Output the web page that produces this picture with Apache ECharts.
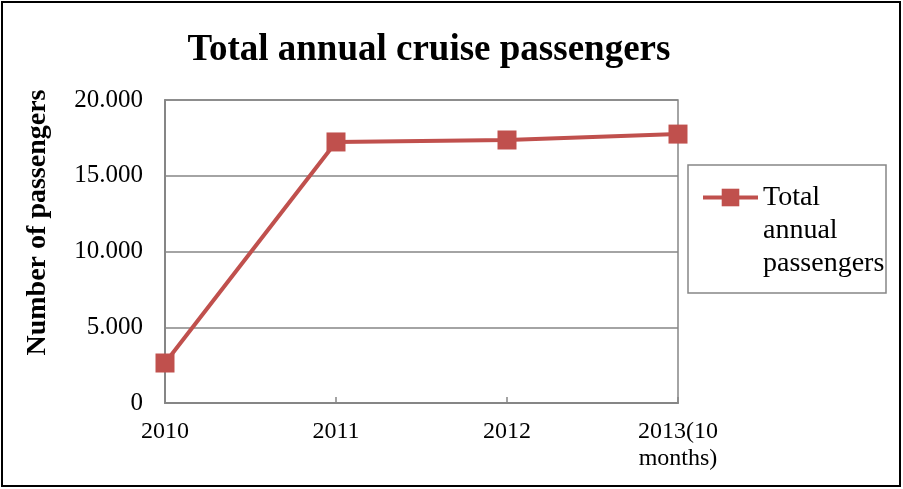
<!DOCTYPE html>
<html>
<head>
<meta charset="utf-8">
<script src="https://cdn.jsdelivr.net/npm/echarts@6/dist/echarts.min.js"></script>
<style>
  html, body { margin: 0; padding: 0; background: #fff; }
  #main { width: 903px; height: 489px; }
</style>
</head>
<body>
<div id="main"></div>
<script>
const years = ["2010", "2011", "2012", "2013(10\nmonths)"];
const passengers = [2640, 17230, 17360, 17750];
const yTicks = [0, 5000, 10000, 15000, 20000];

const serif = '"Liberation Serif", "Times New Roman", serif';
const gray = "#868686";
const red = "#C0504D";

let chart = echarts.init(document.getElementById("main"));

let option = {
  animation: false,
  backgroundColor: "#fff",
  title: {
    text: "Total annual cruise passengers",
    left: 424,
    textAlign: "center",
    top: 27,
    textStyle: {
      fontFamily: serif,
      fontWeight: "bold",
      fontSize: 37,
      color: "#000",
    },
  },
  legend: {
    data: ["Total\nannual\npassengers"],
    left: 696,
    top: 110,
    padding: 5,
    itemWidth: 55,
    itemHeight: 22,
    lineStyle: { width: 4 },
    // two blank lines in front so that "Total" sits level with the icon
    formatter: function (name) {
      return "\n\n" + name;
    },
    textStyle: {
      fontFamily: serif,
      fontSize: 28,
      lineHeight: 33,
      color: "#000",
    },
  },
  grid: {
    left: 165,
    right: 225,
    top: 100,
    bottom: 86,
    show: true,
    borderColor: gray,
    borderWidth: 1.5,
  },
  xAxis: {
    type: "category",
    data: years,
    boundaryGap: false,
    axisLine: { lineStyle: { color: gray, width: 2 } },
    axisTick: { inside: true, length: 6, lineStyle: { color: gray, width: 1.5 } },
    axisLabel: {
      fontFamily: serif,
      fontSize: 24,
      lineHeight: 27,
      color: "#000",
      margin: 15,
    },
  },
  yAxis: {
    type: "value",
    min: yTicks[0],
    max: yTicks[yTicks.length - 1],
    interval: 5000,
    name: "Number of passengers",
    nameLocation: "middle",
    nameGap: 113,
    nameTextStyle: {
      fontFamily: serif,
      fontWeight: "bold",
      fontSize: 28,
      color: "#000",
      padding: [0, 0, 0, 58],
    },
    axisLine: { show: true, lineStyle: { color: gray, width: 2 } },
    axisTick: { show: false },
    splitLine: { lineStyle: { color: gray, width: 1.5 } },
    axisLabel: {
      fontFamily: serif,
      fontSize: 25,
      color: "#000",
      margin: 22,
      formatter: function (v) {
        if (v === 0) return "0";
        return (v / 1000).toFixed(3);
      },
    },
  },
  series: [
    {
      name: "Total\nannual\npassengers",
      type: "line",
      data: passengers,
      symbol: "rect",
      symbolSize: 19,
      itemStyle: { color: red },
      lineStyle: { color: red, width: 4 },
    },
  ],
  graphic: [
    {
      type: "rect",
      shape: { x: 688, y: 165, width: 198, height: 128 },
      style: { fill: null, stroke: gray, lineWidth: 1.5 },
      z: 1,
    },
    {
      type: "rect",
      shape: { x: 2, y: 2, width: 898, height: 484 },
      style: { fill: null, stroke: "#000", lineWidth: 2 },
      z: 1,
    },
  ],
};
chart.setOption(option);
</script>
</body>
</html>
